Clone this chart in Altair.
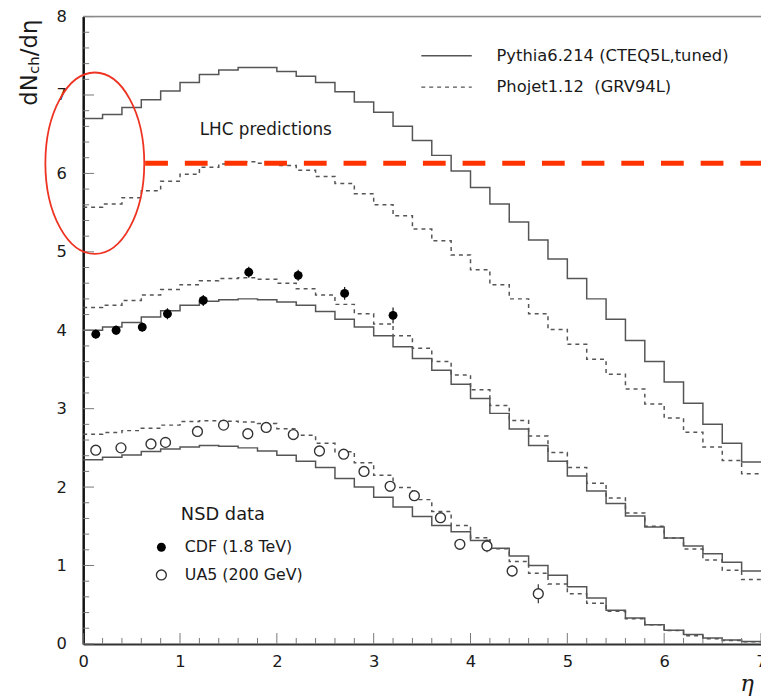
import altair as alt
import pandas as pd

# ---------------- data ----------------
bin_edges = [round(0.2 * i, 1) for i in range(36)]  # 0.0 ... 7.0, bin width 0.2

pythia_lhc = [6.70, 6.75, 6.84, 6.94, 7.05, 7.16, 7.26, 7.32, 7.35, 7.35, 7.30, 7.24,
              7.16, 7.04, 6.91, 6.78, 6.60, 6.42, 6.23, 6.03, 5.82, 5.61, 5.38, 5.15,
              4.91, 4.66, 4.40, 4.14, 3.87, 3.60, 3.34, 3.07, 2.80, 2.56, 2.32]
phojet_lhc = [5.57, 5.61, 5.69, 5.78, 5.90, 5.99, 6.08, 6.12, 6.15, 6.13, 6.10, 6.04,
              5.96, 5.87, 5.74, 5.60, 5.46, 5.29, 5.14, 4.96, 4.77, 4.58, 4.40, 4.21,
              4.01, 3.82, 3.63, 3.44, 3.25, 3.06, 2.88, 2.70, 2.51, 2.34, 2.17]
pythia_tev = [4.00, 4.04, 4.10, 4.17, 4.25, 4.32, 4.37, 4.39, 4.40, 4.39, 4.36, 4.32,
              4.24, 4.14, 4.04, 3.93, 3.79, 3.64, 3.49, 3.31, 3.13, 2.94, 2.74, 2.53,
              2.33, 2.14, 1.95, 1.79, 1.63, 1.49, 1.35, 1.25, 1.15, 1.04, 0.93]
phojet_tev = [4.29, 4.32, 4.38, 4.45, 4.52, 4.58, 4.63, 4.66, 4.67, 4.65, 4.60, 4.53,
              4.45, 4.33, 4.21, 4.08, 3.93, 3.77, 3.60, 3.43, 3.24, 3.04, 2.85, 2.65,
              2.44, 2.25, 2.05, 1.86, 1.67, 1.50, 1.35, 1.21, 1.07, 0.94, 0.82]
pythia_200 = [2.35, 2.38, 2.41, 2.455, 2.485, 2.51, 2.53, 2.52, 2.50, 2.46, 2.405, 2.33,
              2.25, 2.11, 2.00, 1.87, 1.745, 1.625, 1.51, 1.43, 1.32, 1.22, 1.12, 1.00,
              0.875, 0.73, 0.585, 0.43, 0.33, 0.245, 0.175, 0.12, 0.075, 0.05, 0.03]
phojet_200 = [2.675, 2.695, 2.72, 2.75, 2.79, 2.835, 2.845, 2.84, 2.83, 2.81, 2.745, 2.66,
              2.56, 2.45, 2.31, 2.15, 1.995, 1.84, 1.69, 1.51, 1.355, 1.215, 1.05, 0.90,
              0.765, 0.64, 0.52, 0.415, 0.32, 0.245, 0.17, 0.105, 0.065, 0.045, 0.028]

cdf_eta = [0.13, 0.34, 0.61, 0.87, 1.24, 1.71, 2.22, 2.70, 3.20]
cdf_val = [3.95, 4.00, 4.04, 4.21, 4.38, 4.74, 4.70, 4.47, 4.19]
cdf_err = [0.06, 0.06, 0.06, 0.07, 0.07, 0.07, 0.07, 0.08, 0.10]

ua5_eta = [0.13, 0.39, 0.70, 0.85, 1.18, 1.45, 1.70, 1.89, 2.17, 2.44, 2.69, 2.90,
           3.17, 3.42, 3.69, 3.89, 4.17, 4.43, 4.70]
ua5_val = [2.47, 2.50, 2.55, 2.57, 2.71, 2.79, 2.68, 2.76, 2.67, 2.46, 2.42, 2.20,
           2.01, 1.89, 1.61, 1.27, 1.25, 0.93, 0.64]
ua5_err = [0.04, 0.04, 0.04, 0.04, 0.04, 0.04, 0.04, 0.04, 0.04, 0.04, 0.04, 0.04,
           0.04, 0.05, 0.06, 0.05, 0.08, 0.07, 0.12]

lhc_level = [6.13]          # red dashed horizontal line
lhc_from, lhc_to = [0.64], [7.0]
ellipse_eta, ellipse_val = [0.12], [6.13]

x_major = [0, 1, 2, 3, 4, 5, 6, 7]
y_major = [0, 1, 2, 3, 4, 5, 6, 7, 8]
x_minor = [round(0.2 * i, 1) for i in range(36) if i % 5]
y_minor = [round(0.2 * i, 1) for i in range(41) if i % 5]

# ---------------- layout ----------------
W, H = 685, 634
FONT = "DejaVu Sans"
TXT = "#1a1a1a"
xs = alt.Scale(domain=[0, 7], nice=False, zero=False)
ys = alt.Scale(domain=[0, 8], nice=False, zero=False)
AX = alt.Axis(values=x_major, ticks=False, tickSize=0, grid=False, title=None,
              labelFont=FONT, labelFontSize=16.5, labelColor=TXT, labelPadding=10,
              domainColor="#333333", domainWidth=2, labelFlush=False)
AY = alt.Axis(values=y_major, ticks=False, tickSize=0, grid=False, title=None,
              labelFont=FONT, labelFontSize=16.5, labelColor=TXT, labelPadding=17,
              domainColor="#111111", domainWidth=2.5, labelFlush=False)


def X(field):
    return alt.X(field, scale=xs, axis=AX)


def Y(field):
    return alt.Y(field, scale=ys, axis=AY)


rows = []
for name, model, vals in [("lhc_py", "Pythia", pythia_lhc), ("lhc_ph", "Phojet", phojet_lhc),
                          ("tev_py", "Pythia", pythia_tev), ("tev_ph", "Phojet", phojet_tev),
                          ("sps_py", "Pythia", pythia_200), ("sps_ph", "Phojet", phojet_200)]:
    for i, v in enumerate(vals):
        rows.append({"series": name, "model": model, "eta": bin_edges[i], "val": v})
    rows.append({"series": name, "model": model, "eta": bin_edges[len(vals)], "val": vals[-1]})
hist = pd.DataFrame(rows)

hist_layer = alt.Chart(hist).mark_line(interpolate="step-after", color="#555555", strokeWidth=1.5).encode(
    x=X("eta:Q"), y=Y("val:Q"),
    detail="series:N",
    strokeDash=alt.StrokeDash("model:N", scale=alt.Scale(domain=["Pythia", "Phojet"], range=[[1, 0], [4, 4]]),
                              legend=None),
)

cdf = pd.DataFrame({"eta": cdf_eta, "val": cdf_val, "err": cdf_err})
ua5 = pd.DataFrame({"eta": ua5_eta, "val": ua5_val, "err": ua5_err})


def errbars(df, color):
    return alt.Chart(df).transform_calculate(lo="datum.val - datum.err", hi="datum.val + datum.err").mark_rule(
        color=color, strokeWidth=1.2).encode(x=X("eta:Q"), y=Y("lo:Q"), y2="hi:Q")


cdf_err_layer = errbars(cdf, "#111111")
ua5_err_layer = errbars(ua5, "#333333")
cdf_pts = alt.Chart(cdf).mark_point(shape="circle", filled=True, size=81, color="#000000", opacity=1).encode(
    x=X("eta:Q"), y=Y("val:Q"))
ua5_pts = alt.Chart(ua5).mark_point(shape="circle", filled=True, size=100, fill="white", stroke="#333333",
                                    strokeWidth=1.4, opacity=1).encode(x=X("eta:Q"), y=Y("val:Q"))

# red annotations
lhc_df = pd.DataFrame({"eta": lhc_from, "eta2": lhc_to, "val": lhc_level})
red_line = alt.Chart(lhc_df).mark_rule(color="#ff3300", strokeWidth=5, strokeDash=[23, 17.1]).encode(
    x=X("eta:Q"), x2="eta2:Q", y=Y("val:Q"))
ELLIPSE = "M -0.545 0 A 0.545 1 0 1 1 0.545 0 A 0.545 1 0 1 1 -0.545 0 Z"
ell_df = pd.DataFrame({"eta": ellipse_eta, "val": ellipse_val})
red_ellipse = alt.Chart(ell_df).mark_point(shape=ELLIPSE, size=33630, filled=False, stroke="#ee3322",
                                           strokeWidth=1.8, opacity=1).encode(x=X("eta:Q"), y=Y("val:Q"))


# inward ticks
def xticks(vals, length):
    return alt.Chart(pd.DataFrame({"eta": vals})).mark_rule(color="#777777", strokeWidth=1).encode(
        x=X("eta:Q"), y=alt.value(H), y2=alt.value(H - length))


def yticks(vals, length):
    return alt.Chart(pd.DataFrame({"val": vals})).mark_rule(color="#777777", strokeWidth=1).encode(
        y=Y("val:Q"), x=alt.value(0), x2=alt.value(length))


one = pd.DataFrame({"a": [0]})
top_frame = alt.Chart(one).mark_rule(color="#8a8a8a", strokeWidth=1.5).encode(
    x=alt.value(0), x2=alt.value(W), y=alt.value(0))


def label(text, x, y, size, align="left", baseline="middle", **kw):
    return alt.Chart(one).mark_text(text=text, fontSize=size, font=kw.pop("font", FONT), align=align,
                                    baseline=baseline, color=kw.pop("color", TXT), **kw).encode(
        x=alt.value(x), y=alt.value(y))


legend_solid = alt.Chart(one).mark_rule(color="#555555", strokeWidth=1.5).encode(
    x=alt.value(341.7), x2=alt.value(392.7), y=alt.value(39.7))
legend_dash = alt.Chart(one).mark_rule(color="#555555", strokeWidth=1.5, strokeDash=[4, 4]).encode(
    x=alt.value(341.7), x2=alt.value(392.7), y=alt.value(71.3))
leg_cdf = alt.Chart(one).mark_point(shape="circle", filled=True, size=81, color="#000000", opacity=1).encode(
    x=alt.value(79), y=alt.value(536.3))
leg_ua5 = alt.Chart(one).mark_point(shape="circle", filled=True, size=100, fill="white", stroke="#333333",
                                    strokeWidth=1.4, opacity=1).encode(x=alt.value(79), y=alt.value(564.3))

texts = [
    label("Pythia6.214 (CTEQ5L,tuned)", 417.7, 40, 16.5),
    label("Phojet1.12\u00a0 (GRV94L)", 417.7, 71, 16.5),
    label("LHC predictions", 117.7, 114.3, 17),
    label("NSD data", 98.7, 503.7, 18),
    label("CDF (1.8 TeV)", 102.7, 536.3, 16),
    label("UA5 (200 GeV)", 102.7, 564.3, 16),
    label("dN", -47, 90, 23, baseline="alphabetic", angle=270),
    label("ch", -45, 58, 15, baseline="alphabetic", angle=270),
    label("/d\u03b7", -47, 40, 23, baseline="alphabetic", angle=270),
    label("\u03b7", 671, 675, 23, align="center", font="DejaVu Serif", fontStyle="italic"),
]

chart = alt.layer(
    hist_layer,
    xticks(x_minor, 6), xticks(x_major, 11), yticks(y_minor, 6), yticks(y_major, 11),
    top_frame,
    cdf_err_layer, ua5_err_layer, cdf_pts, ua5_pts,
    red_line, red_ellipse,
    legend_solid, legend_dash, leg_cdf, leg_ua5,
    *texts,
).properties(
    width=W, height=H,
    autosize=alt.AutoSizeParams(type="none"),
    padding={"left": 76, "top": 5, "right": 0, "bottom": 52},
).configure_view(strokeWidth=0).configure(background="white")

chart.save("out.html", embed_options={"renderer": "svg", "actions": False})
